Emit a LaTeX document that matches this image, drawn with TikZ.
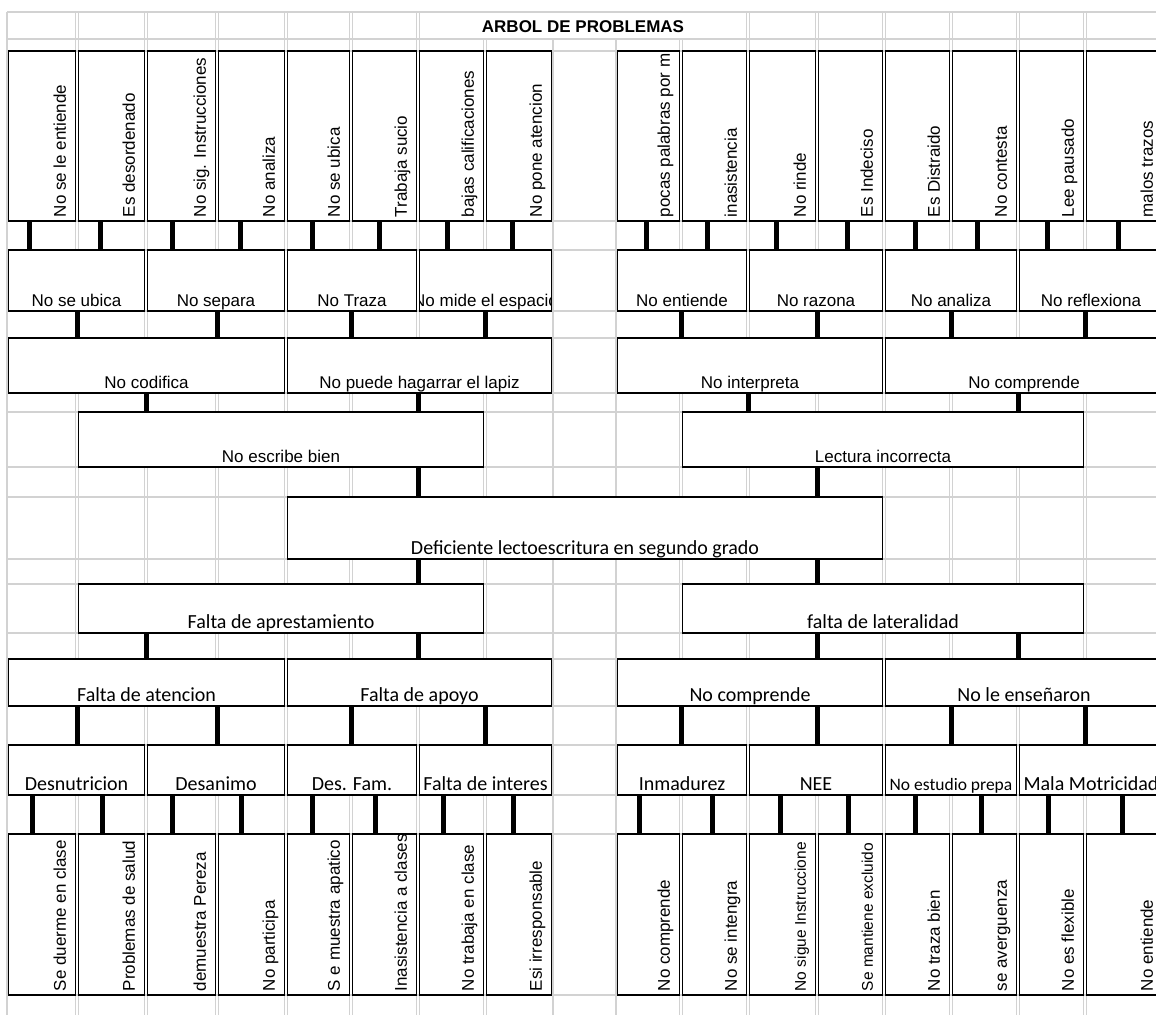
\documentclass[tikz,border=0pt]{standalone}
\usepackage{fontspec}
\setmainfont{Liberation Sans}
\newfontfamily\calfont{Carlito}
\definecolor{gridgray}{RGB}{210,210,210}
\tikzset{
  gridline/.style={draw=gridgray, line width=1.1pt},
  cellbox/.style={draw=black, line width=1.8pt, fill=white, rectangle, inner sep=0pt},
  conn/.style={draw=black, line width=5pt},
  harial/.style={font=\fontsize{17}{20}\selectfont, yshift=5.5pt},
  hcal/.style={font=\calfont\fontsize{20}{24}\selectfont, yshift=5pt},
  hcalsm/.style={font=\calfont\fontsize{17.5}{21}\selectfont, yshift=5pt},
  varial/.style={font=\fontsize{17}{20}\selectfont},
  varialsm/.style={font=\fontsize{15.5}{18}\selectfont},
}
\newcommand\Hcell[7]{%
  \node[cellbox, minimum width={(#4-#2-3)*1pt}, minimum height={(#5-#3)*1pt}] (#1) at ({(#2+#4)/2},{(#3+#5)/2}) {};
  \begin{scope}
    \clip ([shift={(1,-1)}]#1.south west) rectangle ([shift={(-1,1)}]#1.north east);
    \node[#6, anchor=base, inner sep=0pt] (#1-t) at (#1.south) {#7};
  \end{scope}}
\newcommand\Vcell[7]{%
  \node[cellbox, minimum width={(#4-#2-3)*1pt}, minimum height={(#5-#3)*1pt}] (#1) at ({(#2+#4)/2},{(#3+#5)/2}) {};
  \begin{scope}
    \clip ([shift={(1,-1)}]#1.south west) rectangle ([shift={(-1,1)}]#1.north east);
    \node[#6, rotate=90, anchor=base west, inner sep=0pt] (#1-t) at ([xshift=-10.5pt,yshift=4.5pt]#1.south east) {#7};
  \end{scope}}
\newcommand\Conn[3]{\draw[conn] (#1.south -| #3,0) -- (#2.north -| #3,0);}
\begin{document}
\begin{tikzpicture}[x=1pt,y=-1pt]
\useasboundingbox (0,0) rectangle (1156,1015);
\clip (0,0) rectangle (1156,1015);
\fill[white] (0,0) rectangle (1156,1015);
% spreadsheet grid
\foreach \y in {12,39,51,221,250,311,338,393,412,467,497,559,584,633,659,706,745,795,834,995}
  \draw[gridline] (7,\y) -- (1160,\y);
\foreach \x in {77,146,217,286,351,418,485,681,748,817,884,951,1018,1085}{
  \draw[gridline] (\x-1.6,12) -- (\x-1.6,1015);
  \draw[gridline] (\x+1.6,12) -- (\x+1.6,1015);}
\foreach \x in {7,553,616}
  \draw[gridline] (\x,12) -- (\x,1015);
% title cell
\fill[white] (420.4,12.7) rectangle (745.6,38.3);
\node[font=\bfseries\fontsize{17}{20}\selectfont, anchor=base, inner sep=0pt] (title) at (583,32.7) {ARBOL DE PROBLEMAS};
% Row A
\Vcell{A1}{7}{51}{77}{221}{varial}{No se le entiende}
\Vcell{A2}{77}{51}{146}{221}{varial}{Es desordenado}
\Vcell{A3}{146}{51}{217}{221}{varial}{No sig. Instrucciones}
\Vcell{A4}{217}{51}{286}{221}{varial}{No analiza}
\Vcell{A5}{286}{51}{351}{221}{varial}{No se ubica}
\Vcell{A6}{351}{51}{418}{221}{varial}{Trabaja sucio}
\Vcell{A7}{418}{51}{485}{221}{varial}{bajas calificaciones}
\Vcell{A8}{485}{51}{553}{221}{varial}{No pone atencion}
\Vcell{A9}{616}{51}{681}{221}{varial}{pocas palabras por min}
\Vcell{A10}{681}{51}{748}{221}{varial}{inasistencia}
\Vcell{A11}{748}{51}{817}{221}{varial}{No rinde}
\Vcell{A12}{817}{51}{884}{221}{varial}{Es Indeciso}
\Vcell{A13}{884}{51}{951}{221}{varial}{Es Distraido}
\Vcell{A14}{951}{51}{1018}{221}{varial}{No contesta}
\Vcell{A15}{1018}{51}{1085}{221}{varial}{Lee pausado}
\Vcell{A16}{1085}{51}{1164}{221}{varial}{malos trazos}
% Row B
\Hcell{B1}{7}{250}{146}{311}{harial}{No se ubica}
\Hcell{B2}{146}{250}{286}{311}{harial}{No separa}
\Hcell{B3}{286}{250}{418}{311}{harial}{No Traza}
\Hcell{B4}{418}{250}{553}{311}{harial}{No mide el espacio}
\Hcell{B5}{616}{250}{748}{311}{harial}{No entiende}
\Hcell{B6}{748}{250}{884}{311}{harial}{No razona}
\Hcell{B7}{884}{250}{1018}{311}{harial}{No analiza}
\Hcell{B8}{1018}{250}{1164}{311}{harial}{No reflexiona}
% Row C
\Hcell{C1}{7}{338}{286}{393}{harial}{No codifica}
\Hcell{C2}{286}{338}{553}{393}{harial}{No puede hagarrar el lapiz}
\Hcell{C3}{616}{338}{884}{393}{harial}{No interpreta}
\Hcell{C4}{884}{338}{1164}{393}{harial}{No comprende}
% Row D
\Hcell{D1}{77}{412}{485}{467}{harial}{No escribe bien}
\Hcell{D2}{681}{412}{1085}{467}{harial}{Lectura incorrecta}
% Row E
\Hcell{E}{286}{497}{884}{559}{hcal}{Deficiente lectoescritura en segundo grado}
% Row F
\Hcell{F1}{77}{584}{485}{633}{hcal}{Falta de aprestamiento}
\Hcell{F2}{681}{584}{1085}{633}{hcal}{falta de lateralidad}
% Row G
\Hcell{G1}{7}{659}{286}{706}{hcal}{Falta de atencion}
\Hcell{G2}{286}{659}{553}{706}{hcal}{Falta de apoyo}
\Hcell{G3}{616}{659}{884}{706}{hcal}{No comprende}
\Hcell{G4}{884}{659}{1164}{706}{hcal}{No le enseñaron}
% Row H
\Hcell{H1}{7}{745}{146}{795}{hcal}{Desnutricion}
\Hcell{H2}{146}{745}{286}{795}{hcal}{Desanimo}
\Hcell{H3}{286}{745}{418}{795}{hcal}{Des. Fam.}
\Hcell{H4}{418}{745}{553}{795}{hcal}{Falta de interes}
\Hcell{H5}{616}{745}{748}{795}{hcal}{Inmadurez}
\Hcell{H6}{748}{745}{884}{795}{hcal}{NEE}
\Hcell{H7}{884}{745}{1018}{795}{hcalsm}{No estudio prepa}
\Hcell{H8}{1018}{745}{1164}{795}{hcal}{Mala Motricidad}
% Row I
\Vcell{I1}{7}{834}{77}{995}{varial}{Se duerme en clase}
\Vcell{I2}{77}{834}{146}{995}{varial}{Problemas de salud}
\Vcell{I3}{146}{834}{217}{995}{varial}{demuestra Pereza}
\Vcell{I4}{217}{834}{286}{995}{varial}{No participa}
\Vcell{I5}{286}{834}{351}{995}{varial}{S e muestra apatico}
\Vcell{I6}{351}{834}{418}{995}{varial}{Inasistencia a clases}
\Vcell{I7}{418}{834}{485}{995}{varial}{No trabaja en clase}
\Vcell{I8}{485}{834}{553}{995}{varial}{Esi irresponsable}
\Vcell{I9}{616}{834}{681}{995}{varial}{No comprende}
\Vcell{I10}{681}{834}{748}{995}{varial}{No se intengra}
\Vcell{I11}{748}{834}{817}{995}{varialsm}{No sigue Instruccione}
\Vcell{I12}{817}{834}{884}{995}{varialsm}{Se mantiene excluido}
\Vcell{I13}{884}{834}{951}{995}{varial}{No traza bien}
\Vcell{I14}{951}{834}{1018}{995}{varial}{se averguenza}
\Vcell{I15}{1018}{834}{1085}{995}{varial}{No es flexible}
\Vcell{I16}{1085}{834}{1164}{995}{varial}{No entiende}
% connectors A -> B
\Conn{A1}{B1}{29.5} \Conn{A2}{B1}{100.5} \Conn{A3}{B2}{172} \Conn{A4}{B2}{240}
\Conn{A5}{B3}{312} \Conn{A6}{B3}{379} \Conn{A7}{B4}{447} \Conn{A8}{B4}{512}
\Conn{A9}{B5}{646} \Conn{A10}{B5}{707} \Conn{A11}{B6}{776} \Conn{A12}{B6}{847}
\Conn{A13}{B7}{915} \Conn{A14}{B7}{977} \Conn{A15}{B8}{1047} \Conn{A16}{B8}{1118}
% B -> C
\Conn{B1}{C1}{77} \Conn{B2}{C1}{217} \Conn{B3}{C2}{351} \Conn{B4}{C2}{485}
\Conn{B5}{C3}{681} \Conn{B6}{C3}{817} \Conn{B7}{C4}{951} \Conn{B8}{C4}{1085}
% C -> D
\Conn{C1}{D1}{146} \Conn{C2}{D1}{418} \Conn{C3}{D2}{748} \Conn{C4}{D2}{1018}
% D -> E
\Conn{D1}{E}{418} \Conn{D2}{E}{817}
% E -> F
\Conn{E}{F1}{418} \Conn{E}{F2}{817}
% F -> G
\Conn{F1}{G1}{146} \Conn{F1}{G2}{418} \Conn{F2}{G3}{817} \Conn{F2}{G4}{1018}
% G -> H
\Conn{G1}{H1}{77} \Conn{G1}{H2}{217} \Conn{G2}{H3}{351} \Conn{G2}{H4}{485}
\Conn{G3}{H5}{681} \Conn{G3}{H6}{817} \Conn{G4}{H7}{951} \Conn{G4}{H8}{1085}
% H -> I
\Conn{H1}{I1}{32.5} \Conn{H1}{I2}{102} \Conn{H2}{I3}{172} \Conn{H2}{I4}{241}
\Conn{H3}{I5}{312} \Conn{H3}{I6}{375} \Conn{H4}{I7}{443} \Conn{H4}{I8}{513}
\Conn{H5}{I9}{639} \Conn{H5}{I10}{712} \Conn{H6}{I11}{780} \Conn{H6}{I12}{848}
\Conn{H7}{I13}{915} \Conn{H7}{I14}{981} \Conn{H8}{I15}{1048} \Conn{H8}{I16}{1122}
\end{tikzpicture}
\end{document}
